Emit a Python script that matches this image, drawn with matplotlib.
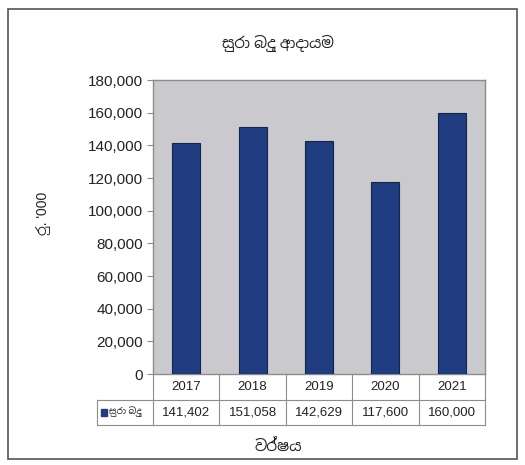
import matplotlib
matplotlib.use("Agg")
import matplotlib.pyplot as plt
from matplotlib.patches import Rectangle

# data
years = ["2017", "2018", "2019", "2020", "2021"]
revenue = [141402, 151058, 142629, 117600, 160000]
y_ticks = [0, 20000, 40000, 60000, 80000, 100000, 120000, 140000, 160000, 180000]

title_text = "සුරා බදු ආදායම"
series_name = "සුරා බදු"
x_title = "වර්ෂය"
y_title = "රු. '000"

BAR_COLOR = "#1f3d80"
BAR_EDGE = "#13244c"
PLOT_BG = "#c9c9ce"
LINE_GREY = "#8c8c8c"
TEXT = "#222222"

# Liberation Sans for digits, Noto Sans Sinhala picks up the Sinhala glyphs
plt.rcParams["font.family"] = ["Liberation Sans", "Noto Sans Sinhala", "DejaVu Sans"]

fig = plt.figure(figsize=(5.25, 4.65), dpi=100, facecolor="white")
ax = fig.add_axes([153 / 525, 1 - 374 / 465, 332 / 525, 294 / 465])
ax.set_facecolor(PLOT_BG)

x = range(len(years))
ax.bar(x, revenue, width=0.42, color=BAR_COLOR, edgecolor=BAR_EDGE, linewidth=0.8, zorder=3)

ax.set_xlim(-0.5, len(years) - 0.5)
ax.set_ylim(0, 180000)
ax.set_yticks(y_ticks)
ax.set_yticklabels([f"{v:,}" for v in y_ticks], fontsize=11, color=TEXT)
ax.tick_params(axis="y", direction="out", length=4, color=LINE_GREY, pad=3)
ax.set_xticks([])
for s in ax.spines.values():
    s.set_color(LINE_GREY)
    s.set_linewidth(1.0)

# data table under the plot
n = len(years)
row_h = 25.5 / 294
leg_w = 56 / 332
kw = dict(transform=ax.transAxes, color=LINE_GREY, lw=0.8, clip_on=False)
for i in range(n + 1):
    ax.plot([i / n, i / n], [0, -2 * row_h], **kw)
ax.plot([-leg_w, 1], [-row_h, -row_h], **kw)
ax.plot([-leg_w, 1], [-2 * row_h, -2 * row_h], **kw)
ax.plot([-leg_w, -leg_w], [-row_h, -2 * row_h], **kw)
for i, (yr, val) in enumerate(zip(years, revenue)):
    cx = (i + 0.5) / n
    ax.text(cx, -0.5 * row_h, yr, transform=ax.transAxes, ha="center", va="center",
            fontsize=9.5, color=TEXT)
    ax.text(cx, -1.5 * row_h, f"{val:,}", transform=ax.transAxes, ha="center", va="center",
            fontsize=9.5, color=TEXT)
ax.add_patch(Rectangle((-leg_w + 0.012, -1.5 * row_h - 0.012), 0.018, 0.024,
                       transform=ax.transAxes, color=BAR_COLOR, clip_on=False))
ax.text(-leg_w + 0.036, -1.5 * row_h, series_name, transform=ax.transAxes,
        ha="left", va="center", fontsize=6.5, color=TEXT)

# titles
fig.text(278 / 525, 1 - 43 / 465, title_text, ha="center", va="center", fontsize=10.8,
         color=TEXT)
fig.text(278 / 525, 1 - 446 / 465, x_title, ha="center", va="center", fontsize=11,
         fontweight="bold", color=TEXT)
fig.text(43 / 525, 1 - 213 / 465, y_title, ha="center", va="center", fontsize=10,
         rotation=90, color=TEXT)

# outer chart border
fig.patches.append(Rectangle((8 / 525, 1 - 459 / 465), 509 / 525, 450 / 465,
                             transform=fig.transFigure, fill=False,
                             edgecolor="#555555", lw=1.2))

fig.savefig("out.png", dpi=100, facecolor="white")
